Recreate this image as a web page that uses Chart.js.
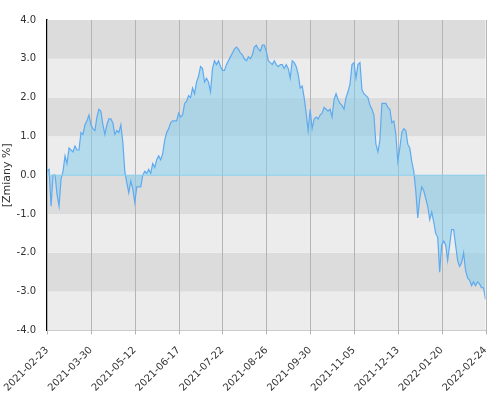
<!DOCTYPE html>
<html>
<head>
<meta charset="utf-8">
<script src="https://cdn.jsdelivr.net/npm/chart.js@4"></script>
<style>
  body { margin: 0; background: #fff; }
  #wykres { display: block; }
</style>
</head>
<body>
<canvas id="wykres" width="500" height="400"></canvas>
<script>
// Dane (zmiany %)
const etykietyDat = ['2021-02-23', '2021-03-30', '2021-05-12', '2021-06-17', '2021-07-22',
  '2021-08-26', '2021-09-30', '2021-11-05', '2021-12-13', '2022-01-20', '2022-02-24'];

const zmiany = [
  0.1, 0.15, -0.8, 0.0, 0.0, -0.5, -0.8, -0.1, 0.1, 0.5, 0.3, 0.7, 0.65, 0.6, 0.75, 0.65, 0.65,
  1.1, 1.05, 1.3, 1.4, 1.55, 1.3, 1.2, 1.15, 1.5, 1.7, 1.65, 1.3, 1.05, 1.3, 1.45, 1.45, 1.35,
  1.05, 1.15, 1.1, 1.3, 0.85, 0.1, -0.2, -0.45, -0.15, -0.35, -0.7, -0.3, -0.3, -0.3, 0.0, 0.1,
  0.05, 0.15, 0.05, 0.3, 0.2, 0.4, 0.5, 0.4, 0.55, 0.9, 1.1, 1.2, 1.35, 1.4, 1.4, 1.4, 1.6, 1.5,
  1.55, 1.85, 1.9, 2.05, 2.0, 2.25, 2.1, 2.4, 2.55, 2.8, 2.75, 2.4, 2.5, 2.4, 2.15, 2.75, 2.95,
  2.85, 2.95, 2.8, 2.7, 2.7, 2.85, 2.95, 3.05, 3.15, 3.25, 3.3, 3.25, 3.15, 3.1, 3.0, 2.95, 3.05,
  3.0, 3.1, 3.3, 3.35, 3.25, 3.2, 3.35, 3.35, 3.2, 2.95, 2.9, 2.85, 2.95, 2.85, 2.8, 2.85, 2.85,
  2.75, 2.85, 2.75, 2.5, 2.95, 2.9, 2.8, 2.6, 2.25, 2.3, 2.0, 1.6, 1.15, 1.7, 1.2, 1.45, 1.5,
  1.45, 1.55, 1.6, 1.75, 1.7, 1.65, 1.7, 1.5, 1.95, 2.1, 1.95, 1.85, 1.8, 1.7, 2.0, 2.15, 2.35,
  2.85, 2.9, 2.5, 2.85, 2.9, 2.2, 2.1, 2.05, 2.0, 1.8, 1.7, 1.55, 0.8, 0.6, 0.9, 1.85, 1.85,
  1.85, 1.75, 1.7, 1.35, 1.4, 1.05, 0.35, 0.7, 1.1, 1.2, 1.15, 0.8, 0.7, 0.35, 0.1, -0.4, -1.1,
  -0.6, -0.3, -0.4, -0.6, -0.8, -1.15, -0.95, -1.2, -1.5, -1.6, -2.5, -1.8, -1.7, -1.8, -2.2,
  -1.8, -1.4, -1.4, -1.8, -2.2, -2.35, -2.25, -2.0, -2.45, -2.65, -2.7, -2.85, -2.75, -2.85,
  -2.75, -2.8, -2.9, -2.9, -3.2
];

const punkty = zmiany.map((v, i) => ({ x: i, y: v }));
const ostatni = zmiany.length - 1;

// Pasy tła co 1 pp, pionowe linie siatki i linia zera
const pasyTla = {
  id: 'pasyTla',
  beforeDatasetsDraw(chart) {
    const { ctx, chartArea: a, scales: { x, y } } = chart;
    ctx.save();
    for (let v = -4; v < 4; v++) {
      const gora = y.getPixelForValue(v + 1);
      const dol = y.getPixelForValue(v);
      ctx.fillStyle = ((v + 4) % 2 === 1) ? '#dcdcdc' : '#ececec';
      ctx.fillRect(a.left, gora, a.right - a.left, dol - gora);
    }
    ctx.strokeStyle = '#b4b4b4';
    ctx.lineWidth = 1;
    x.ticks.forEach(t => {
      const px = Math.round(x.getPixelForValue(t.value)) + 0.5;
      ctx.beginPath();
      ctx.moveTo(px, a.top);
      ctx.lineTo(px, a.bottom + 4);
      ctx.stroke();
    });
    ctx.restore();
  },
  afterDatasetsDraw(chart) {
    const { ctx, chartArea: a, scales: { y } } = chart;
    const y0 = y.getPixelForValue(0);
    ctx.save();
    ctx.strokeStyle = '#87ceeb';
    ctx.lineWidth = 1;
    ctx.beginPath();
    ctx.moveTo(a.left, y0);
    ctx.lineTo(a.right, y0);
    ctx.stroke();
    ctx.restore();
  }
};

new Chart(document.getElementById('wykres').getContext('2d'), {
  type: 'line',
  data: {
    datasets: [{
      data: punkty,
      borderColor: '#5eaaf0',
      backgroundColor: 'rgba(135,206,235,0.55)',
      borderWidth: 1.2,
      pointRadius: 0,
      tension: 0,
      fill: { target: { value: 0 } }
    }]
  },
  options: {
    responsive: false,
    animation: false,
    layout: { padding: { right: 3, top: 20 } },
    plugins: { legend: { display: false }, tooltip: { enabled: false } },
    scales: {
      x: {
        type: 'linear',
        min: 0,
        max: ostatni,
        afterBuildTicks: (s) => {
          s.ticks = etykietyDat.map((_, k) => ({ value: k * ostatni / 10 }));
        },
        grid: { display: false },
        border: { color: '#b4b4b4' },
        ticks: {
          color: '#333',
          font: { family: 'DejaVu Sans', size: 10 },
          padding: 6,
          maxRotation: 45,
          minRotation: 45,
          autoSkip: false,
          callback: (v, i) => etykietyDat[i]
        }
      },
      y: {
        min: -4,
        max: 4,
        grid: { display: false },
        border: { color: '#000', width: 1.5 },
        ticks: {
          stepSize: 1,
          color: '#333',
          font: { family: 'DejaVu Sans', size: 10 },
          callback: (v) => v.toFixed(1)
        },
        title: {
          display: true,
          text: '[Zmiany %]',
          color: '#333',
          font: { family: 'DejaVu Sans', size: 11 },
          padding: 0
        }
      }
    }
  },
  plugins: [pasyTla]
});
</script>
</body>
</html>
